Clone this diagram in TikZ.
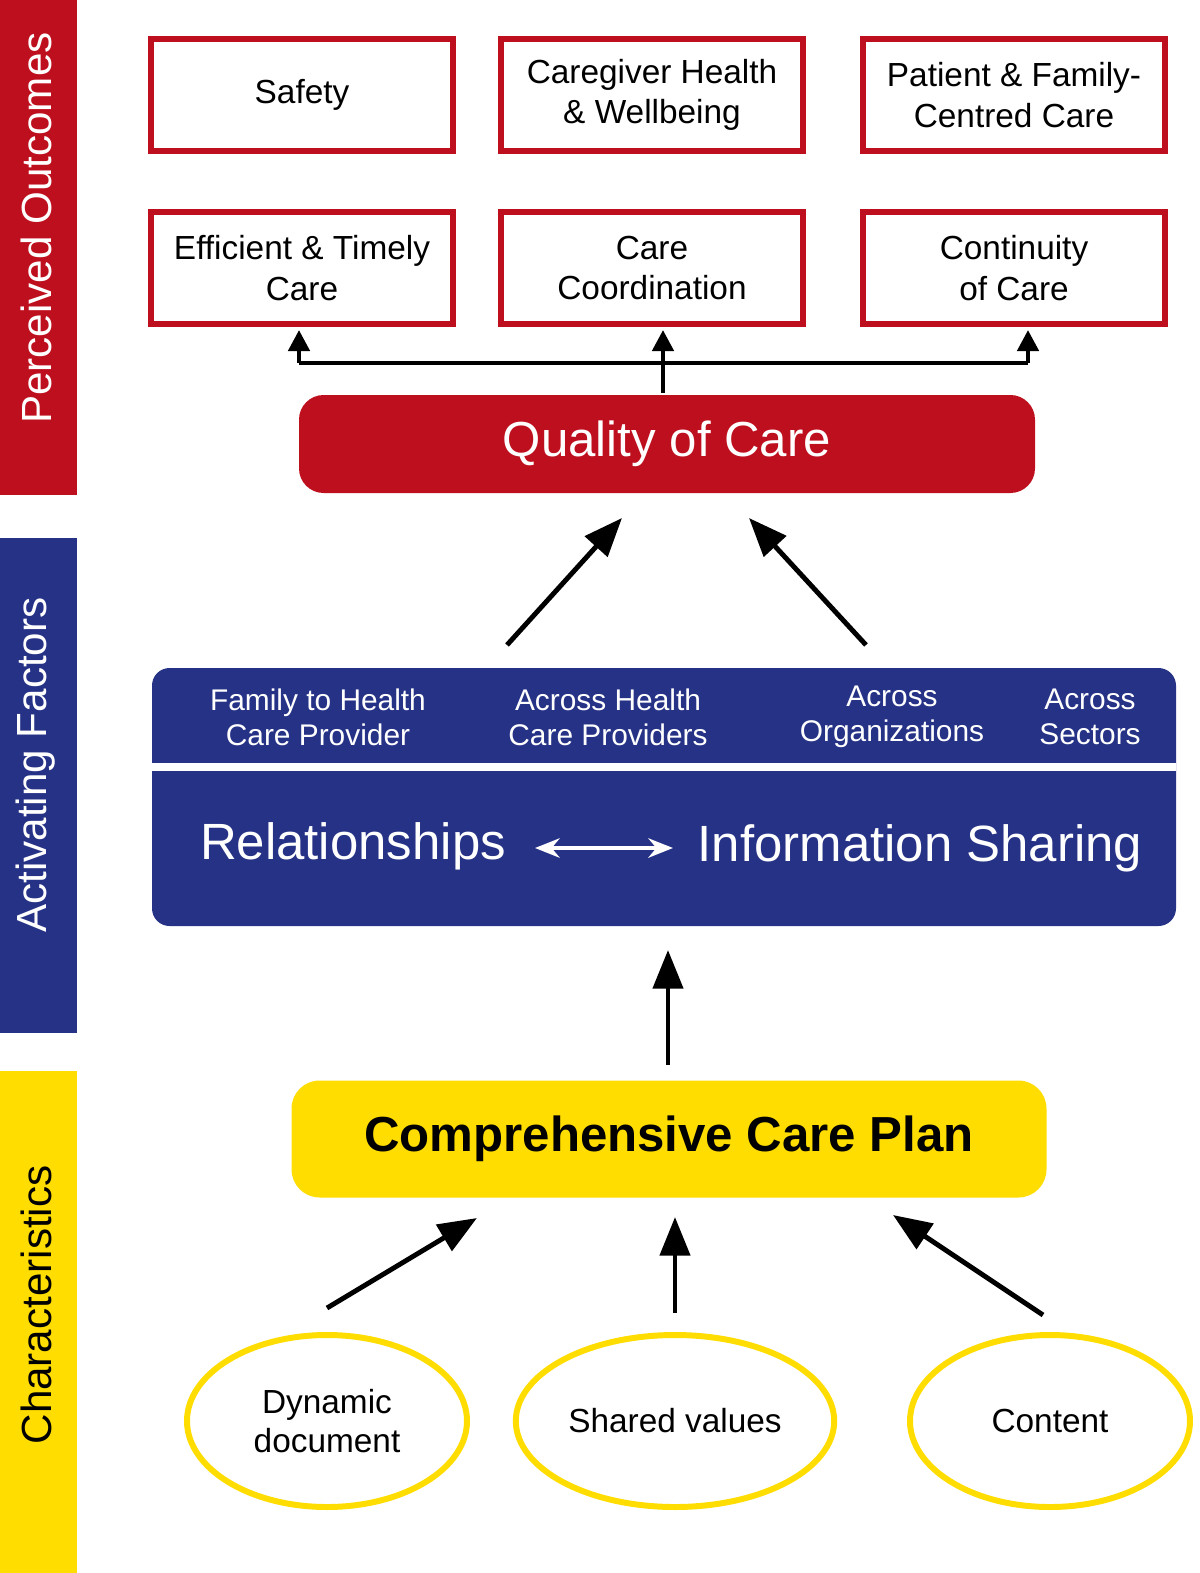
\documentclass[tikz,border=0pt]{standalone}
\usepackage{fontspec}
\setmainfont{Liberation Sans}
\usetikzlibrary{arrows.meta,shapes.geometric}
\definecolor{cred}{HTML}{BE0F1E}
\definecolor{cblue}{HTML}{253286}
\definecolor{cyel}{HTML}{FFDD00}
\begin{document}
\begin{tikzpicture}[x=0.02cm,y=-0.02cm,
 arr/.style={line width=2.8pt,-{Triangle[length=22pt,width=17pt]}},
 sarr/.style={line width=2.6pt,-{Triangle[length=12pt,width=12pt]}},
 ell/.style={draw=cyel,line width=3.4pt,ellipse,minimum width=280*0.02cm,minimum height=172*0.02cm,align=center,font=\fontsize{19}{22}\selectfont},
 blab/.style={text=white,align=center,font=\fontsize{17}{20}\selectfont}]
\useasboundingbox (0,0) rectangle (1200,1573);
% side bars
\fill[cred] (0,0) rectangle (77,495);
\fill[cblue] (0,538) rectangle (77,1033);
\fill[cyel] (0,1071) rectangle (77,1573);
\node[rotate=90,text=white,font=\fontsize{24}{28}\selectfont] (s1) at (36,228) {Perceived Outcomes};
\node[rotate=90,text=white,font=\fontsize{24}{28}\selectfont] (s2) at (36,765) {Activating Factors};
\node[rotate=90,text=black,font=\fontsize{24}{28}\selectfont] (s3) at (36,1305) {Characteristics};
% outcome boxes
\foreach \n/\x/\y/\t in {a/302/95/Safety, b/652/95/{Caregiver Health\\ \& Wellbeing}, c/1014/95/{Patient \& Family-\\Centred Care},
 d/302/268/{Efficient \& Timely\\Care}, e/652/268/{Care\\Coordination}, f/1014/268/{Continuity\\of Care}}{
 \draw[cred,line width=3pt] (\x-151,\y-56) rectangle (\x+151,\y+56);
 \node[align=center,font=\fontsize{19}{23}\selectfont] (\n) at (\x,\y) {\t};}
% quality of care
\node[fill=cred,rounded corners=14pt,minimum width=736*0.02cm,minimum height=98*0.02cm,text=white,font=\fontsize{28}{32}\selectfont] (q) at (667,444) {Quality of Care};
\coordinate (j0) at (663,363);
\coordinate (jl) at (299,363);
\coordinate (jr) at (1028,363);
\draw[line width=2.6pt] (jl) -- (jr);
\draw[line width=2.6pt] (663,393) -- (j0);
\draw[sarr] (jl) -- (299,330);
\draw[sarr] (j0) -- (663,330);
\draw[sarr] (jr) -- (1028,330);
% blue boxes
\fill[cblue,rounded corners=10pt] (152,668) rectangle (1176,926);
\draw[white,line width=4pt] (152,767) -- (1176,767);
\node[blab] (b1) at (318,717) {Family to Health\\Care Provider};
\node[blab] (b2) at (608,717) {Across Health\\Care Providers};
\node[blab] (b3) at (892,717) {Across\\Organizations};
\node[blab] (b4) at (1090,717) {Across\\Sectors};
\node[text=white,font=\fontsize{29}{33}\selectfont] (rel) at (353,846) {Relationships};
\node[text=white,font=\fontsize{29}{33}\selectfont] (inf) at (920,848) {Information Sharing};
\draw[white,line width=2.4pt,{Stealth[length=14pt,width=11pt]}-{Stealth[length=14pt,width=11pt]}] (535,848) -- (673,848);
\draw[arr] (507,645) -- (622,518);
\draw[arr] (866,645) -- (749,518);
\draw[arr] (668,1065) -- (668,950);
% care plan
\node[fill=cyel,rounded corners=16pt,minimum width=755*0.02cm,minimum height=117*0.02cm,font=\bfseries\fontsize{28}{32}\selectfont] (cp) at (669,1139) {Comprehensive Care Plan};
\node[ell] (e1) at (327,1421) {Dynamic\\document};
\node[ell] (e2) at (675,1421) {Shared values};
\node[ell] (e3) at (1050,1421) {Content};
\draw[arr] (327,1308) -- (477,1218);
\draw[arr] (675,1313) -- (675,1217);
\draw[arr] (1043,1315) -- (893,1215);
\end{tikzpicture}
\end{document}
